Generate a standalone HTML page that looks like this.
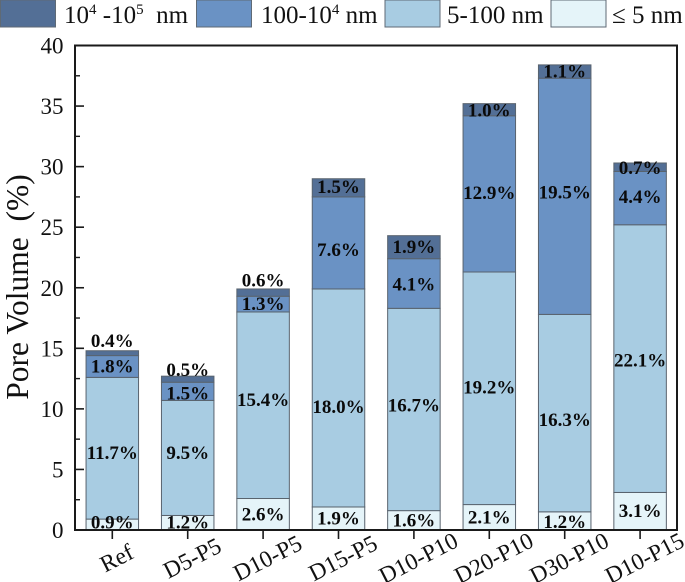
<!DOCTYPE html>
<html lang="en">
<head>
<meta charset="utf-8">
<title>Pore Volume Chart</title>
<style>
  html, body { margin: 0; padding: 0; background: #fff; }
  svg { display: block; font-family: "Liberation Serif", serif; }
</style>
</head>
<body>
<svg id="chart" width="685" height="582" viewBox="0 0 685 582" xmlns="http://www.w3.org/2000/svg"></svg>
<script>
// Chart data
const categories = ["Ref", "D5-P5", "D10-P5", "D15-P5", "D10-P10", "D20-P10", "D30-P10", "D10-P15"];
const seriesBelow5 = [0.9, 1.2, 2.6, 1.9, 1.6, 2.1, 1.5, 3.1];
const series5to100 = [11.7, 9.5, 15.4, 18.0, 16.7, 19.2, 16.3, 22.1];
const series100to1e4 = [1.8, 1.5, 1.3, 7.6, 4.1, 12.9, 19.5, 4.4];
const series1e4to1e5 = [0.4, 0.5, 0.6, 1.5, 1.9, 1.0, 1.1, 0.7];
const printedBelow5 = ["0.9%", "1.2%", "2.6%", "1.9%", "1.6%", "2.1%", "1.2%", "3.1%"];
const printed5to100 = ["11.7%", "9.5%", "15.4%", "18.0%", "16.7%", "19.2%", "16.3%", "22.1%"];
const printed100to1e4 = ["1.8%", "1.5%", "1.3%", "7.6%", "4.1%", "12.9%", "19.5%", "4.4%"];
const printed1e4to1e5 = ["0.4%", "0.5%", "0.6%", "1.5%", "1.9%", "1.0%", "1.1%", "0.7%"];
const yTicks = [0, 5, 10, 15, 20, 25, 30, 35, 40];
const yMinorTicks = [2.5, 7.5, 12.5, 17.5, 22.5, 27.5, 32.5, 37.5];

// Layout
const NS = "http://www.w3.org/2000/svg";
const svg = document.getElementById("chart");
const plot = { left: 75, right: 677, top: 45.5, bottom: 530 };
const yMax = 40;
const firstTick = 112.3;
const tickStep = 75.4;
const barWidth = 52.5;
const labelFont = 19;

// Manual label nudges, pixels relative to the segment centre
const nudgeBelow5 = [-2, 0, 0, 0, 0, 0, 1, 0];
const nudge5to100 = [5, -5, -5, 9, -4, -1, 7, 2];
const nudge100to1e4 = [0, 2, 0, 7, 1, -1, -4, -1];
const nudge1e4to1e5 = [-12, -9, -12, -1, 0, 1, 0, 1];

function x(i) { return firstTick + tickStep * i; }
function y(v) { return plot.bottom - (v / yMax) * (plot.bottom - plot.top); }

function make(tag, attrs, parent) {
  const el = document.createElementNS(NS, tag);
  for (const k in attrs) el.setAttribute(k, attrs[k]);
  (parent || svg).appendChild(el);
  return el;
}

const seriesList = [
  { key: "below-5nm", values: seriesBelow5, printed: printedBelow5, nudge: nudgeBelow5, fill: "#e5f4f9" },
  { key: "5-100nm", values: series5to100, printed: printed5to100, nudge: nudge5to100, fill: "#a8cce2" },
  { key: "100-1e4nm", values: series100to1e4, printed: printed100to1e4, nudge: nudge100to1e4, fill: "#6a92c4" },
  { key: "1e4-1e5nm", values: series1e4to1e5, printed: printed1e4to1e5, nudge: nudge1e4to1e5, fill: "#536f96" }
];

// Bars
categories.forEach(function (cat, i) {
  let base = 0;
  seriesList.forEach(function (s) {
    const v = s.values[i];
    const top = base + v;
    const rect = make("rect", {
      x: x(i) - barWidth / 2, y: y(top), width: barWidth, height: y(base) - y(top),
      fill: s.fill, stroke: "#59636e", "stroke-width": 1
    });
    
    
    base = top;
  });
});

// Axes frame
const frame = make("rect", {
  x: plot.left, y: plot.top, width: plot.right - plot.left, height: plot.bottom - plot.top,
  fill: "none", stroke: "#1a1a1a", "stroke-width": 2
});



// Y ticks (drawn inward from the left axis)
yTicks.forEach(function (t) {
  const tick = make("line", { x1: plot.left, x2: plot.left + 9, y1: y(t), y2: y(t), stroke: "#1a1a1a", "stroke-width": 1.6 });
  
  
  const label = make("text", { x: 63.5, y: y(t) + 8, "text-anchor": "end", "font-size": 23, fill: "#111" });
  label.textContent = String(t);
  
  
});
yMinorTicks.forEach(function (t) {
  const tick = make("line", { x1: plot.left, x2: plot.left + 5, y1: y(t), y2: y(t), stroke: "#1a1a1a", "stroke-width": 1.4 });
  
  
});

// X ticks and labels
categories.forEach(function (cat, i) {
  const tick = make("line", { x1: x(i), x2: x(i), y1: plot.bottom, y2: plot.bottom + 9, stroke: "#1a1a1a", "stroke-width": 1.6 });
  
  
  const lx = x(i) + 8;
  const ly = 565;
  const label = make("text", {
    x: lx, y: ly, "text-anchor": "middle", "font-size": 23.5, fill: "#111",
    transform: "rotate(-27 " + lx + " " + ly + ")"
  });
  label.textContent = cat;
  
  
});

// Segment value labels
categories.forEach(function (cat, i) {
  let base = 0;
  seriesList.forEach(function (s) {
    const v = s.values[i];
    const cy = y(base + v / 2) + s.nudge[i];
    const label = make("text", {
      x: x(i), y: cy + 6, "text-anchor": "middle", "font-size": labelFont, "font-weight": "bold", fill: "#0a0a0a"
    });
    label.textContent = s.printed[i];
    
    
    base += v;
  });
});

// Y axis title
const yTitle = make("text", {
  x: 28, y: 287, "text-anchor": "middle", "font-size": 31.5, fill: "#111",
  transform: "rotate(-90 28 287)"
});
yTitle.textContent = "Pore Volume  (%)";
yTitle.style.whiteSpace = "pre";



// Legend
const legendSwatches = [
  { x: 0.5, fill: "#536f96" },
  { x: 196.5, fill: "#6a92c4" },
  { x: 385, fill: "#a8cce2" },
  { x: 551, fill: "#e5f4f9" }
];
legendSwatches.forEach(function (l) {
  const sw = make("rect", { x: l.x, y: 0, width: 55, height: 27, fill: l.fill, stroke: "#5f6a75", "stroke-width": 1 });
  
  
});

function legendText(xPos, parts) {
  const t = make("text", { x: xPos, y: 23, "font-size": 25, fill: "#111" });
  t.style.whiteSpace = "pre";
  parts.forEach(function (p) {
    const span = make("tspan", p.sup ? { dy: -9, "font-size": 15 } : (p.after ? { dy: 9 } : {}), t);
    span.textContent = p.text;
  });
  
  
}
legendText(64, [{ text: "10" }, { text: "4", sup: true }, { text: " -10", after: true }, { text: "5", sup: true }, { text: "  nm", after: true }]);
legendText(261, [{ text: "100-10" }, { text: "4", sup: true }, { text: " nm", after: true }]);
legendText(447, [{ text: "5-100 nm" }]);
legendText(612, [{ text: "≤ 5 nm" }]);
</script>
</body>
</html>
